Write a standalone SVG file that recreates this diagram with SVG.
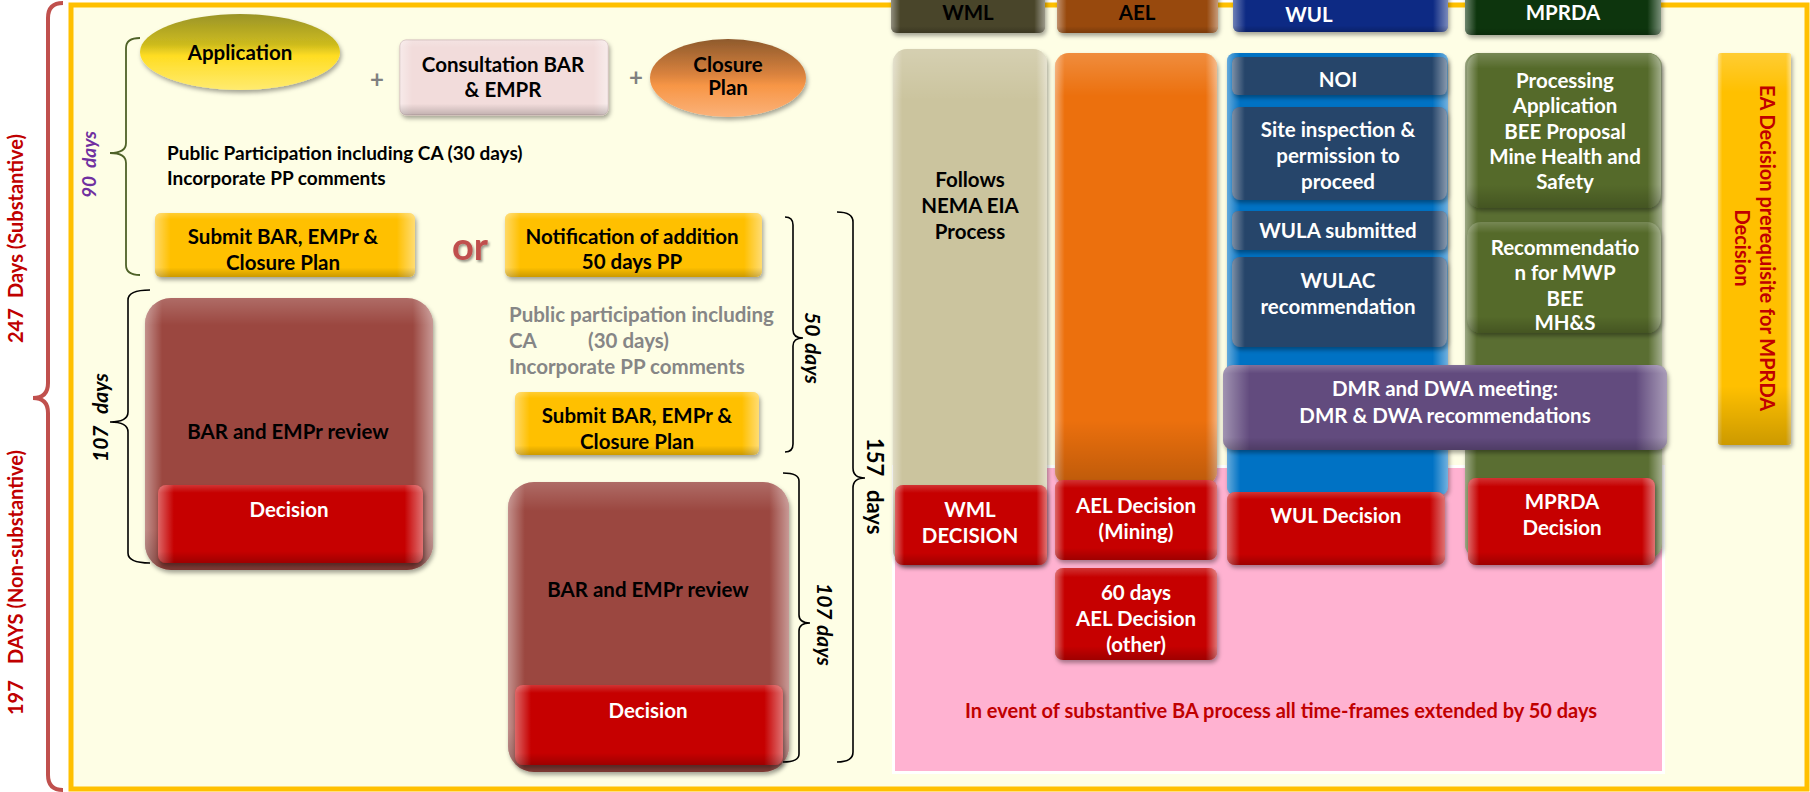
<svg xmlns="http://www.w3.org/2000/svg" width="1810" height="792" viewBox="0 0 1810 792">
<defs>
<style>
text{font-family:Lato,'Liberation Sans',sans-serif;font-weight:bold;}
.c{text-anchor:middle;font-size:20.5px;}
.w{fill:#fff}
.k{fill:#000}
.bh{fill:url(#bh)}
.bv{fill:url(#bv)}
.sh{filter:url(#sh)}
.brk{fill:none;stroke:#000;stroke-width:1.6}
.rot{font-size:21px}
.it{font-style:italic}
.red{fill:#C00000}
.gray{fill:#868686;font-size:20.5px}
</style>
<filter id="sh" x="-10%" y="-10%" width="125%" height="130%">
<feDropShadow dx="1.5" dy="3" stdDeviation="2" flood-color="#000" flood-opacity="0.35"/>
</filter>
<filter id="tsh" x="-20%" y="-20%" width="150%" height="150%">
<feDropShadow dx="1.5" dy="2" stdDeviation="1" flood-color="#000" flood-opacity="0.4"/>
</filter>
<linearGradient id="bh" x1="0" y1="0" x2="1" y2="0">
<stop offset="0" stop-color="#fff" stop-opacity="0.4"/>
<stop offset="0.06" stop-color="#fff" stop-opacity="0"/>
<stop offset="0.93" stop-color="#fff" stop-opacity="0"/>
<stop offset="1" stop-color="#fff" stop-opacity="0.45"/>
</linearGradient>
<linearGradient id="bv" x1="0" y1="0" x2="0" y2="1">
<stop offset="0" stop-color="#fff" stop-opacity="0.2"/>
<stop offset="0.1" stop-color="#fff" stop-opacity="0"/>
<stop offset="0.85" stop-color="#000" stop-opacity="0"/>
<stop offset="1" stop-color="#000" stop-opacity="0.2"/>
</linearGradient>
<linearGradient id="gApp" x1="0" y1="0" x2="0" y2="1">
<stop offset="0" stop-color="#9A9428"/>
<stop offset="0.4" stop-color="#CDBB1E"/>
<stop offset="0.55" stop-color="#FFDD22"/>
<stop offset="1" stop-color="#FFEB70"/>
</linearGradient>
<linearGradient id="gClo" x1="0" y1="0" x2="0" y2="1">
<stop offset="0" stop-color="#8E5A2C"/>
<stop offset="0.45" stop-color="#D9823E"/>
<stop offset="0.6" stop-color="#F79646"/>
<stop offset="1" stop-color="#FBB27A"/>
</linearGradient>
</defs>

<rect x="0" y="0" width="1810" height="792" fill="#fff"/>
<path d="M63,3 Q48,3 48,18 L48,383 Q48,398 33,398 Q48,398 48,413 L48,775 Q48,790 63,790" fill="none" stroke="#C0504D" stroke-width="4"/>
<rect x="71" y="5" width="1736" height="784" fill="#FEFEE5" stroke="#FFC000" stroke-width="5"/>

<text transform="translate(23,0) rotate(-90)" class="red" style="font-size:20px"><tspan x="-343">247</tspan><tspan x="-298">Days (Substantive)</tspan></text>
<text transform="translate(23,0) rotate(-90)" class="red" style="font-size:20px"><tspan x="-715">197</tspan><tspan x="-664">DAYS (Non-substantive)</tspan></text>

<!-- pink region -->
<g id="pink-region">
<rect x="892" y="465" width="773" height="309" fill="#fff"/>
<rect x="895" y="468" width="767" height="303" fill="#FFB2D1"/>
<text x="1281" y="718" class="c red" style="font-size:20px">In event of substantive BA process all time-frames extended by 50 days</text>
</g>

<!-- Headers -->
<g id="hdr-wml">
<rect class="sh" x="891" y="-12" width="154" height="45" rx="6" fill="#4A452A"/>
<rect class="bh" x="891" y="-12" width="154" height="45" rx="6"/>
<rect class="bv" x="891" y="-12" width="154" height="45" rx="6"/>
<text x="968" y="20" class="c k">WML</text>
</g>
<g id="hdr-ael">
<rect class="sh" x="1057" y="-12" width="161" height="45" rx="6" fill="#984807"/>
<rect class="bh" x="1057" y="-12" width="161" height="45" rx="6"/>
<rect class="bv" x="1057" y="-12" width="161" height="45" rx="6"/>
<text x="1137" y="20" class="c k">AEL</text>
</g>
<g id="hdr-wul">
<rect class="sh" x="1233" y="-12" width="215" height="44" rx="6" fill="#0C2C84"/>
<rect class="bh" x="1233" y="-12" width="215" height="44" rx="6"/>
<rect class="bv" x="1233" y="-12" width="215" height="44" rx="6"/>
<text x="1309" y="22" class="c w">WUL</text>
</g>
<g id="hdr-mprda">
<rect class="sh" x="1465" y="-12" width="196" height="47" rx="6" fill="#0B360B"/>
<rect class="bh" x="1465" y="-12" width="196" height="47" rx="6"/>
<rect class="bv" x="1465" y="-12" width="196" height="47" rx="6"/>
<text x="1563" y="20" class="c w">MPRDA</text>
</g>

<!-- Columns -->
<g id="col-wml">
<rect class="sh" x="893" y="49" width="154" height="515" rx="14" fill="#CBC49E"/>
<rect class="bh" x="893" y="49" width="154" height="515" rx="14"/>
<rect class="bv" x="893" y="49" width="154" height="515" rx="14"/>
<text class="c k"><tspan x="970" y="187">Follows</tspan><tspan x="970" y="213">NEMA EIA</tspan><tspan x="970" y="239">Process</tspan></text>
</g>
<g id="col-ael">
<rect class="sh" x="1055" y="53" width="162" height="432" rx="14" fill="#EC7010"/>
<rect class="bh" x="1055" y="53" width="162" height="432" rx="14"/>
<rect class="bv" x="1055" y="53" width="162" height="432" rx="14"/>
</g>
<g id="col-wul">
<rect class="sh" x="1227" y="53" width="221" height="442" rx="8" fill="#0572C4"/>
<rect class="bh" x="1227" y="53" width="221" height="442" rx="8"/>
</g>
<g id="col-mprda">
<rect class="sh" x="1465" y="53" width="197" height="505" rx="14" fill="#5A6E30"/>
<rect class="bh" x="1465" y="53" width="197" height="505" rx="14"/>
</g>

<!-- WUL inner -->
<g id="noi">
<rect class="sh" x="1232" y="57" width="215" height="38" rx="6" fill="#26446A"/>
<rect class="bh" x="1232" y="57" width="215" height="38" rx="6"/>
<text x="1338" y="87" class="c w">NOI</text>
</g>
<g id="site-inspection">
<rect class="sh" x="1232" y="107" width="215" height="93" rx="8" fill="#26446A"/>
<rect class="bh" x="1232" y="107" width="215" height="93" rx="8"/>
<text class="c w"><tspan x="1338" y="137">Site inspection &amp;</tspan><tspan x="1338" y="163">permission to</tspan><tspan x="1338" y="189">proceed</tspan></text>
</g>
<g id="wula-submitted">
<rect class="sh" x="1232" y="211" width="215" height="39" rx="6" fill="#26446A"/>
<rect class="bh" x="1232" y="211" width="215" height="39" rx="6"/>
<text x="1338" y="238" class="c w">WULA submitted</text>
</g>
<g id="wulac">
<rect class="sh" x="1232" y="257" width="215" height="90" rx="8" fill="#26446A"/>
<rect class="bh" x="1232" y="257" width="215" height="90" rx="8"/>
<text class="c w"><tspan x="1338" y="288">WULAC</tspan><tspan x="1338" y="314">recommendation</tspan></text>
</g>

<!-- MPRDA inner -->
<g id="processing">
<rect class="sh" x="1467" y="53" width="194" height="155" rx="14" fill="#546A2A"/>
<rect class="bh" x="1467" y="53" width="194" height="155" rx="14"/>
<rect class="bv" x="1467" y="53" width="194" height="155" rx="14"/>
<text class="c w"><tspan x="1565" y="88">Processing</tspan><tspan x="1565" y="113">Application</tspan><tspan x="1565" y="139">BEE Proposal</tspan><tspan x="1565" y="164">Mine Health and</tspan><tspan x="1565" y="189">Safety</tspan></text>
</g>
<g id="recommendation">
<rect class="sh" x="1467" y="222" width="194" height="111" rx="14" fill="#546A2A"/>
<rect class="bh" x="1467" y="222" width="194" height="111" rx="14"/>
<rect class="bv" x="1467" y="222" width="194" height="111" rx="14"/>
<text class="c w"><tspan x="1565" y="255">Recommendatio</tspan><tspan x="1565" y="280">n for MWP</tspan><tspan x="1565" y="306">BEE</tspan><tspan x="1565" y="330">MH&amp;S</tspan></text>
</g>

<g id="dmr-dwa">
<rect class="sh" x="1223" y="365" width="444" height="85" rx="10" fill="#624C7E"/>
<rect class="bh" x="1223" y="365" width="444" height="85" rx="10"/>
<rect class="bv" x="1223" y="365" width="444" height="85" rx="10"/>
<text class="c w"><tspan x="1445" y="396">DMR and DWA meeting:</tspan><tspan x="1445" y="423">DMR &amp; DWA recommendations</tspan></text>
</g>

<!-- Decisions right -->
<g id="wml-decision">
<rect class="sh" x="895" y="485" width="152" height="80" rx="8" fill="#C60000"/>
<rect class="bh" x="895" y="485" width="152" height="80" rx="8"/>
<rect class="bv" x="895" y="485" width="152" height="80" rx="8"/>
<text class="c w"><tspan x="970" y="517">WML</tspan><tspan x="970" y="543">DECISION</tspan></text>
</g>
<g id="ael-decision-mining">
<rect class="sh" x="1055" y="480" width="162" height="80" rx="8" fill="#C60000"/>
<rect class="bh" x="1055" y="480" width="162" height="80" rx="8"/>
<rect class="bv" x="1055" y="480" width="162" height="80" rx="8"/>
<text class="c w"><tspan x="1136" y="513">AEL Decision</tspan><tspan x="1136" y="539">(Mining)</tspan></text>
</g>
<g id="ael-decision-other">
<rect class="sh" x="1055" y="568" width="162" height="92" rx="8" fill="#C60000"/>
<rect class="bh" x="1055" y="568" width="162" height="92" rx="8"/>
<rect class="bv" x="1055" y="568" width="162" height="92" rx="8"/>
<text class="c w"><tspan x="1136" y="600">60 days</tspan><tspan x="1136" y="626">AEL Decision</tspan><tspan x="1136" y="652">(other)</tspan></text>
</g>
<g id="wul-decision">
<rect class="sh" x="1227" y="492" width="218" height="73" rx="8" fill="#C60000"/>
<rect class="bh" x="1227" y="492" width="218" height="73" rx="8"/>
<rect class="bv" x="1227" y="492" width="218" height="73" rx="8"/>
<text x="1336" y="523" class="c w">WUL Decision</text>
</g>
<g id="mprda-decision">
<rect class="sh" x="1468" y="478" width="187" height="87" rx="8" fill="#C60000"/>
<rect class="bh" x="1468" y="478" width="187" height="87" rx="8"/>
<rect class="bv" x="1468" y="478" width="187" height="87" rx="8"/>
<text class="c w"><tspan x="1562" y="509">MPRDA</tspan><tspan x="1562" y="535">Decision</tspan></text>
</g>

<g id="ea-decision">
<rect class="sh" x="1718" y="53" width="73" height="392" rx="3" fill="#FFC000"/>
<rect class="bh" x="1718" y="53" width="73" height="392" rx="3"/>
<rect class="bv" x="1718" y="53" width="73" height="392" rx="3"/>
<text transform="translate(1760,248) rotate(90)" class="red" style="font-size:20px;text-anchor:middle">EA Decision prerequisite for MPRDA</text>
<text transform="translate(1735,248) rotate(90)" class="red" style="font-size:20px;text-anchor:middle">Decision</text>
</g>

<!-- Left side -->
<g id="application">
<ellipse class="sh" cx="240" cy="52" rx="100" ry="38" fill="url(#gApp)"/>
<text x="240" y="60" class="c k">Application</text>
</g>
<text x="377" y="88" class="c" style="fill:#808080;font-size:24px">+</text>
<g id="consultation">
<rect class="sh" x="400" y="40" width="208" height="75" rx="6" fill="#F2DCDB" stroke="#D0B8B8" stroke-width="1"/>
<rect class="bh" x="400" y="40" width="208" height="75" rx="6"/>
<rect class="bv" x="400" y="40" width="208" height="75" rx="6"/>
<text class="c k"><tspan x="503" y="72">Consultation BAR</tspan><tspan x="503" y="97">&amp; EMPR</tspan></text>
</g>
<text x="636" y="86" class="c" style="fill:#808080;font-size:24px">+</text>
<g id="closure-plan">
<ellipse class="sh" cx="728" cy="78" rx="78" ry="39" fill="url(#gClo)"/>
<text class="c k"><tspan x="728" y="72">Closure</tspan><tspan x="728" y="95">Plan</tspan></text>
</g>

<text x="167" y="160" class="k" style="font-size:19px">Public Participation including CA (30 days)</text>
<text x="167" y="185" class="k" style="font-size:19px">Incorporate PP comments</text>

<g id="submit-1">
<rect class="sh" x="155" y="213" width="260" height="64" rx="6" fill="#FFC000"/>
<rect class="bh" x="155" y="213" width="260" height="64" rx="6"/>
<rect class="bv" x="155" y="213" width="260" height="64" rx="6"/>
<text class="c k"><tspan x="283" y="244">Submit BAR, EMPr &amp;</tspan><tspan x="283" y="270">Closure Plan</tspan></text>
</g>
<text x="470" y="260" class="c" style="fill:#C0504D;font-size:38px;filter:url(#tsh)">or</text>
<g id="notification">
<rect class="sh" x="505" y="213" width="257" height="64" rx="6" fill="#FFC000"/>
<rect class="bh" x="505" y="213" width="257" height="64" rx="6"/>
<rect class="bv" x="505" y="213" width="257" height="64" rx="6"/>
<text class="c k"><tspan x="632" y="244">Notification of addition</tspan><tspan x="632" y="269">50 days PP</tspan></text>
</g>

<text class="gray"><tspan x="509" y="322">Public participation including</tspan><tspan x="509" y="348">CA</tspan><tspan x="588" y="348">(30 days)</tspan><tspan x="509" y="374">Incorporate PP comments</tspan></text>

<g id="submit-2">
<rect class="sh" x="515" y="392" width="244" height="63" rx="6" fill="#FFC000"/>
<rect class="bh" x="515" y="392" width="244" height="63" rx="6"/>
<rect class="bv" x="515" y="392" width="244" height="63" rx="6"/>
<text class="c k"><tspan x="637" y="423">Submit BAR, EMPr &amp;</tspan><tspan x="637" y="449">Closure Plan</tspan></text>
</g>

<g id="review-1">
<rect class="sh" x="145" y="298" width="288" height="272" rx="26" fill="#9B4641"/>
<rect class="bh" x="145" y="298" width="288" height="272" rx="26"/>
<rect class="bv" x="145" y="298" width="288" height="272" rx="26"/>
<text x="288" y="439" class="c k">BAR and EMPr review</text>
</g>
<g id="decision-1">
<rect class="sh" x="158" y="485" width="265" height="78" rx="8" fill="#C60000"/>
<rect class="bh" x="158" y="485" width="265" height="78" rx="8"/>
<rect class="bv" x="158" y="485" width="265" height="78" rx="8"/>
<text x="289" y="517" class="c w">Decision</text>
</g>

<g id="review-2">
<rect class="sh" x="508" y="482" width="281" height="290" rx="26" fill="#9B4641"/>
<rect class="bh" x="508" y="482" width="281" height="290" rx="26"/>
<rect class="bv" x="508" y="482" width="281" height="290" rx="26"/>
<text x="648" y="597" class="c k">BAR and EMPr review</text>
</g>
<g id="decision-2">
<rect class="sh" x="515" y="685" width="268" height="80" rx="8" fill="#C60000"/>
<rect class="bh" x="515" y="685" width="268" height="80" rx="8"/>
<rect class="bv" x="515" y="685" width="268" height="80" rx="8"/>
<text x="648" y="718" class="c w">Decision</text>
</g>

<!-- Braces (connectors) -->
<g id="connectors">
<path d="M140,38 Q126,38 126,48 L126,143 Q126,153 110,153 Q126,153 126,163 L126,265 Q126,275 140,275" fill="none" stroke="#4F6228" stroke-width="1.8"/>
<path class="brk" d="M150,290 Q128,290 128,300 L128,412 Q128,422 110,422 Q128,422 128,432 L128,553 Q128,563 150,563"/>
<path class="brk" d="M785,217 Q793,217 793,225 L793,330 Q793,338 803,338 Q793,338 793,346 L793,444 Q793,452 785,452"/>
<path class="brk" d="M837,212 Q853,212 853,222 L853,468 Q853,478 865,478 Q853,478 853,488 L853,752 Q853,762 837,762"/>
<path class="brk" d="M783,473 Q799,473 799,481 L799,615 Q799,623 810,623 Q799,623 799,631 L799,754 Q799,762 783,762"/>
</g>

<text transform="translate(96,0) rotate(-90)" class="it" style="fill:#7030A0;font-size:19px"><tspan x="-198">90</tspan><tspan x="-168">days</tspan></text>
<text transform="translate(108,0) rotate(-90)" class="it k rot"><tspan x="-462">107</tspan><tspan x="-414">days</tspan></text>
<text transform="translate(805,0) rotate(90)" class="it k rot"><tspan x="312">50</tspan><tspan x="343">days</tspan></text>
<text transform="translate(867,0) rotate(90)" class="k" style="font-size:22px"><tspan x="438">157</tspan><tspan x="490">days</tspan></text>
<text transform="translate(817,0) rotate(90)" class="it k rot"><tspan x="583">107</tspan><tspan x="625">days</tspan></text>
</svg>
